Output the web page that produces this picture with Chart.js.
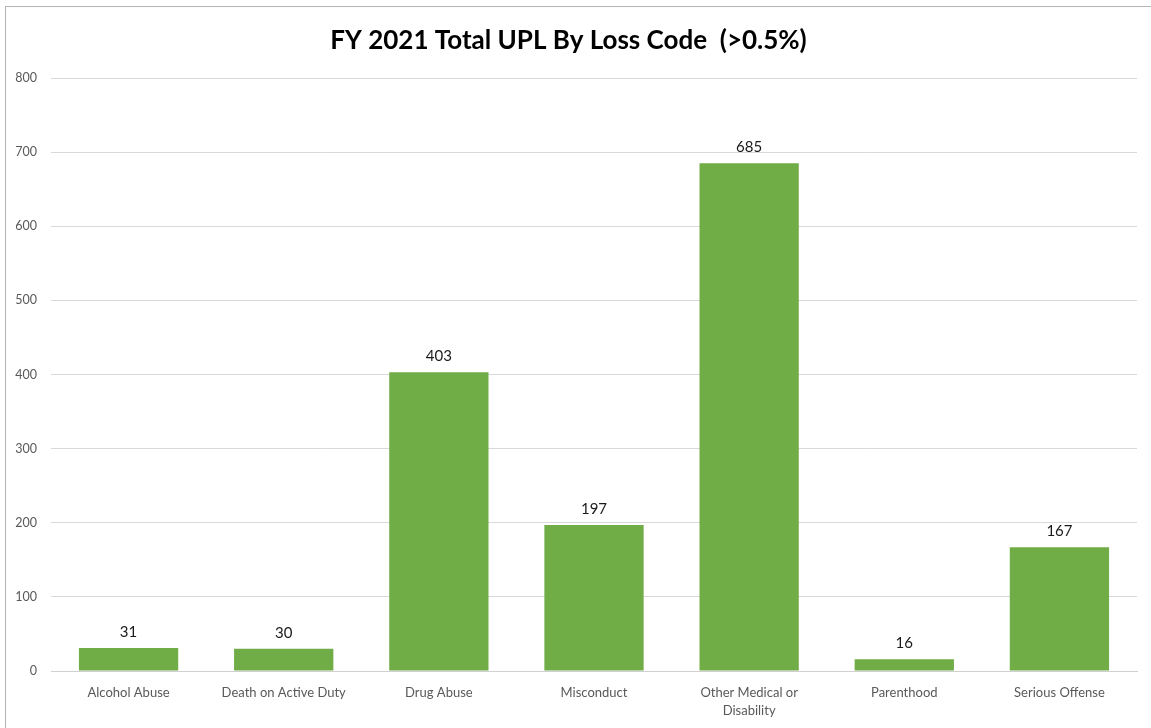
<!DOCTYPE html>
<html>
<head>
<meta charset="utf-8">
<script src="https://cdn.jsdelivr.net/npm/chart.js@4"></script>
<style>
  html, body { margin: 0; padding: 0; background: #fff; }
  #wrap { position: absolute; left: 0; top: 0; width: 1151px; height: 728px; }
  #frame { position: absolute; left: 5px; top: 6px; width: 1160px; height: 740px; border-top: 1px solid #b4b4b4; border-left: 1px solid #b4b4b4; pointer-events: none; }
</style>
</head>
<body>
<div id="wrap"><canvas id="c" width="1151" height="728"></canvas></div>
<div id="frame"></div>
<script>
const categories = [
  "Alcohol Abuse",
  "Death on Active Duty",
  "Drug Abuse",
  "Misconduct",
  ["Other Medical or", "Disability"],
  "Parenthood",
  "Serious Offense"
];
const values = [31, 30, 403, 197, 685, 16, 167];
const yTicks = [0, 100, 200, 300, 400, 500, 600, 700, 800];
const titleText = "FY 2021 Total UPL By Loss Code  (>0.5%)";

const FONT = "Lato, 'Open Sans', 'Liberation Sans', sans-serif";

const valueLabels = {
  id: 'valueLabels',
  afterDatasetsDraw(chart) {
    const ctx = chart.ctx;
    const meta = chart.getDatasetMeta(0);
    ctx.save();
    ctx.font = "15px " + FONT;
    ctx.fillStyle = "#1a1a1a";
    ctx.textAlign = "center";
    ctx.textBaseline = "middle";
    meta.data.forEach((bar, i) => {
      ctx.fillText(String(values[i]), bar.x, bar.y - 16);
    });
    ctx.restore();
  }
};

new Chart(document.getElementById('c'), {
  type: 'bar',
  data: {
    labels: categories,
    datasets: [{
      data: values,
      backgroundColor: '#70AD47',
      borderWidth: 0,
      categoryPercentage: 1.0,
      barPercentage: 0.64
    }]
  },
  options: {
    responsive: false,
    animation: false,
    layout: { padding: { top: 0, right: 14, left: 0, bottom: 0 } },
    plugins: {
      legend: { display: false },
      tooltip: { enabled: false },
      title: {
        display: true,
        text: titleText,
        color: '#000',
        font: { family: FONT, size: 26, weight: 'bold', lineHeight: 1.2 },
        padding: { top: 25, bottom: 21.8 }
      }
    },
    scales: {
      x: {
        afterFit(scale) { scale.height = 57; },
        grid: { display: false, drawTicks: false },
        border: { display: true, color: '#d0d0d0', width: 1 },
        ticks: {
          color: '#595959',
          font: { family: FONT, size: 13, lineHeight: 1.45 },
          padding: 12,
          maxRotation: 0,
          autoSkip: false
        }
      },
      y: {
        min: 0,
        max: 800,
        afterBuildTicks(scale) { scale.ticks = yTicks.map(v => ({ value: v })); },
        afterFit(scale) { scale.width = 51; },
        grid: { color: '#d9d9d9', drawTicks: false, lineWidth: 1 },
        border: { display: false },
        ticks: {
          color: '#595959',
          font: { family: FONT, size: 12.5 },
          padding: 14
        }
      }
    }
  },
  plugins: [valueLabels]
});
</script>
</body>
</html>
